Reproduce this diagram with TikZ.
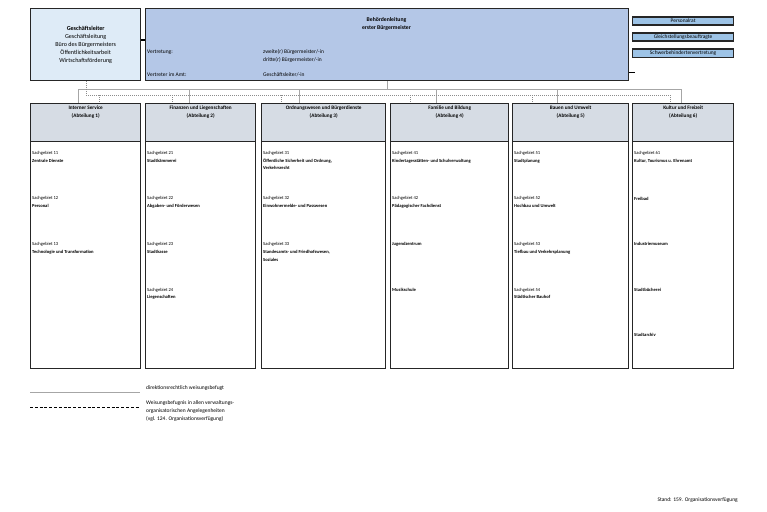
\documentclass[tikz,border=0pt]{standalone}
\usepackage{fontspec}
\setmainfont{Carlito}
\usetikzlibrary{positioning}

\definecolor{leitung}{HTML}{B4C7E7}
\definecolor{gfleiter}{HTML}{DEEBF7}
\definecolor{abteilung}{HTML}{D6DCE4}
\definecolor{stab}{HTML}{9DC3E6}

\tikzset{
  box/.style={draw=black!85, line width=1.4pt, anchor=north west, inner sep=0pt},
  weisung/.style={draw=black!35, line width=0.7pt},
  verwaltung/.style={draw=black!45, line width=0.4pt, dash pattern=on 1pt off 1pt},
  sg/.style={font=\fontsize{4.6}{7.8}\selectfont, anchor=north west, inner sep=0pt, align=left},
  txt/.style={font=\fontsize{5.5}{8}\selectfont, inner sep=0pt},
}

\begin{document}
\begin{tikzpicture}[x=1pt, y=-1pt]
    \useasboundingbox (0,0) rectangle (767,511);

    % top boxes
    \node[box, fill=gfleiter, minimum width=110pt, minimum height=72pt, align=center,
          font=\fontsize{6.1}{8}\selectfont] (gl) at (30,8)
          {\textbf{Geschäftsleiter}\\Geschäftsleitung\\Büro des Bürgermeisters\\Öffentlichkeitsarbeit\\Wirtschaftsförderung};
    \node[box, fill=leitung, minimum width=483pt, minimum height=72pt] (bl) at (145,8) {};

    \node[txt, align=center, font=\bfseries\fontsize{5.7}{8}\selectfont] (blt) at (386.5,24) {Behördenleitung\\erster Bürgermeister};
    \node[txt, anchor=west] (vt) at (147,52) {Vertretung:};
    \node[txt, anchor=west] (vt2) at (263,52) {zweite(r) Bürgermeister/-in};
    \node[txt, anchor=west] (vt3) at (263,60) {dritte(r) Bürgermeister/-in};
    \node[txt, anchor=west] (va) at (147,75) {Vertreter im Amt:};
    \node[txt, anchor=west] (va2) at (263,75) {Geschäftsleiter/-in};

    % staff
    \node[box, fill=stab, line width=1.2pt, minimum width=101pt, minimum height=8pt, font=\fontsize{5.4}{6}\selectfont] (pr) at (632,16.5) {Personalrat};
    \node[box, fill=stab, line width=1.2pt, minimum width=101pt, minimum height=8pt, font=\fontsize{5.4}{6}\selectfont] (gb) at (632,32.5) {Gleichstellungsbeauftragte};
    \node[box, fill=stab, line width=1.2pt, minimum width=101pt, minimum height=8pt, font=\fontsize{5.4}{6}\selectfont] (sv) at (632,48.5) {Schwerbehindertenvertretung};

    \draw[line width=1.4pt] (gl.east |- 0,40) -- (bl.west |- 0,40);
    \draw[line width=1pt] (bl.east |- 0,72) -- ++(6,0);

    % departments
    \foreach \name/\x/\w/\title/\num in {a1/30/110/Interner Service/1, a2/145/110/Finanzen und Liegenschaften/2,
        a3/261/124/Ordnungswesen und Bürgerdienste/3, a4/390/118/Familie und Bildung/4,
        a5/512/116/Bauen und Umwelt/5, a6/632/101/Kultur und Freizeit/6}{
      \node[box, fill=abteilung, minimum width=\w pt, minimum height=38pt] (\name) at (\x,103) {};
      \node[box, fill=white, minimum width=\w pt, minimum height=227pt] (\name c) at (\x,141) {};
      \node[txt, anchor=north, align=center, font=\bfseries\fontsize{5.2}{8}\selectfont] (\name t) at ([yshift=-2.5pt]\name.north) {\title\\(Abteilung \num)};
    }

    % Sachgebiete
    \foreach \t [count=\i] in {{Sachgebiet 11\\\textbf{Zentrale Dienste}}, {Sachgebiet 12\\\textbf{Personal}},
        {Sachgebiet 13\\\textbf{Technologie und Transformation}}}
      \node[sg] (a1s\i) at (32,{151+(\i-1)*45.6}) {\t};
    \foreach \t [count=\i] in {{Sachgebiet 21\\\textbf{Stadtkämmerei}}, {Sachgebiet 22\\\textbf{Abgaben- und Förderwesen}},
        {Sachgebiet 23\\\textbf{Stadtkasse}}, {Sachgebiet 24\\\textbf{Liegenschaften}}}
      \node[sg] (a2s\i) at (147,{151+(\i-1)*45.6}) {\t};
    \foreach \t [count=\i] in {{Sachgebiet 31\\\textbf{Öffentliche Sicherheit und Ordnung,}\\\textbf{Verkehrsrecht}},
        {Sachgebiet 32\\\textbf{Einwohnermelde- und Passwesen}},
        {Sachgebiet 33\\\textbf{Standesamts- und Friedhofswesen,}\\\textbf{Soziales}}}
      \node[sg] (a3s\i) at (263,{151+(\i-1)*45.6}) {\t};
    \foreach \t [count=\i] in {{Sachgebiet 41\\\textbf{Kindertagesstätten- und Schulverwaltung}},
        {Sachgebiet 42\\\textbf{Pädagogischer Fachdienst}}, {\textbf{Jugendzentrum}}, {\textbf{Musikschule}}}
      \node[sg] (a4s\i) at (392,{151+(\i-1)*45.6}) {\t};
    \foreach \t [count=\i] in {{Sachgebiet 51\\\textbf{Stadtplanung}}, {Sachgebiet 52\\\textbf{Hochbau und Umwelt}},
        {Sachgebiet 53\\\textbf{Tiefbau und Verkehrsplanung}}, {Sachgebiet 54\\\textbf{Städtischer Bauhof}}}
      \node[sg] (a5s\i) at (514,{151+(\i-1)*45.6}) {\t};
    \foreach \t [count=\i] in {{Sachgebiet 61\\\textbf{Kultur, Tourismus u. Ehrenamt}}, {\textbf{Freibad}},
        {\textbf{Industriemuseum}}, {\textbf{Stadtbücherei}}, {\textbf{Stadtarchiv}}}
      \node[sg] (a6s\i) at (634,{151+(\i-1)*45.6}) {\t};

    % connectors
    \coordinate (wb) at (bl.south |- 0,89);
    \draw[weisung] (bl.south) -- (wb);
    \draw[weisung] (wb -| 78,0) -- (wb -| 681,0);
    \foreach \name/\x in {a1/78, a2/189, a3/299, a4/436, a5/557, a6/681}
      \draw[weisung] (wb -| \x,0) -- (\name.north -| \x,0);

    \coordinate (vb) at (gl.south |- 0,95);
    \draw[verwaltung] (gl.south) -- (vb) -- (vb -| 670,0);
    \foreach \name/\x in {a1/99, a2/172, a3/281, a4/410, a5/532, a6/670}
      \draw[verwaltung] (vb -| \x,0) -- (\name.north -| \x,0);

    % legend
    \coordinate (l1a) at (30,392);
    \coordinate (l1b) at (140,392);
    \draw[weisung, line width=0.8pt] (l1a) -- (l1b);
    \node[txt, anchor=west] (l1t) at (146,388) {direktionsrechtlich weisungsbefugt};
    \coordinate (l2a) at (30,407);
    \coordinate (l2b) at (140,407);
    \draw[line width=1pt, dash pattern=on 3pt off 1.8pt] (l2a) -- (l2b);
    \node[txt, anchor=north west, align=left] (l2t) at (146,400)
      {Weisungsbefugnis in allen verwaltungs-\\organisatorischen Angelegenheiten\\(vgl. 124. Organisationsverfügung)};

    \node[txt, anchor=east] (stand) at (738,500) {Stand: 159. Organisationsverfügung};
\end{tikzpicture}
\end{document}
